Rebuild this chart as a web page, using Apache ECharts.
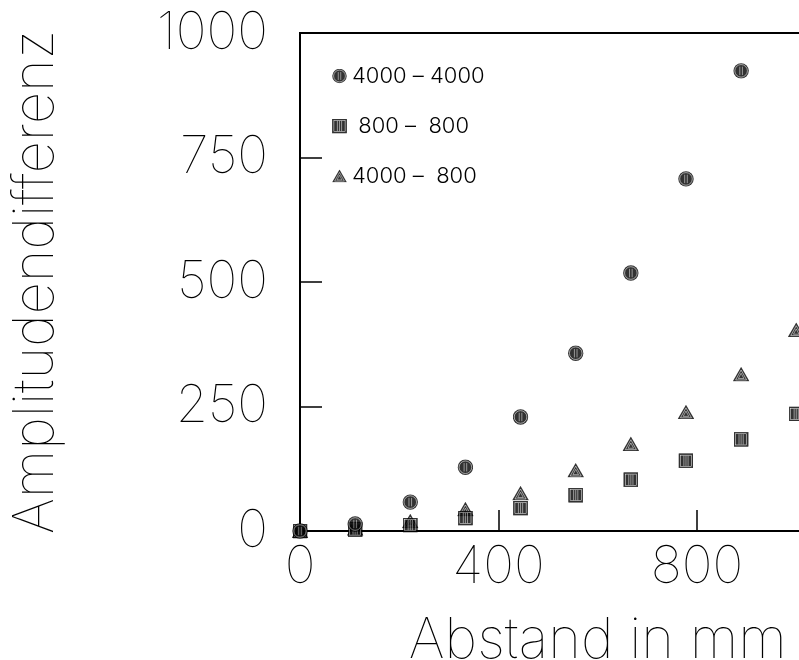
<!DOCTYPE html>
<html>
<head>
<meta charset="utf-8">
<script src="https://cdn.jsdelivr.net/npm/echarts@6/dist/echarts.min.js"></script>
<style>
  html, body { margin: 0; padding: 0; background: #fff; }
  #chart { width: 799px; height: 660px; }
</style>
</head>
<body>
<div id="chart"></div>
<script>
// Distance from the source (mm)
const abstand = [0, 111.1, 222.2, 333.3, 444.4, 555.6, 666.7, 777.8, 888.9, 1000];

// Amplitude difference for each transducer pairing
const paar4000_4000 = [0, 14, 58, 128, 229, 357, 518, 707, 924];
const paar800_800   = [0, 3, 12, 26, 46, 72, 103, 141, 184, 235];
const paar4000_800  = [0, 5, 20, 44, 76, 122, 175, 239, 315, 404];

const serienNamen = ['4000 – 4000', ' 800 –  800', '4000 –  800'];
const yTicks = [0, 250, 500, 750, 1000];
const xTicks = [0, 400, 800, 1200];

// Hatched marker glyphs
function svgSymbol(svg) {
  return 'image://data:image/svg+xml;charset=utf-8,' + encodeURIComponent(svg);
}
const kreis = svgSymbol(
  '<svg xmlns="http://www.w3.org/2000/svg" width="32" height="32" viewBox="0 0 16 16">' +
  '<circle cx="8" cy="8" r="7.7" fill="#000"/>' +
  '<circle cx="8" cy="8" r="6.3" fill="none" stroke="#fff" stroke-width="0.55"/>' +
  '<path d="M6.7 3.8V12.2M9.3 3.8V12.2" stroke="#fff" stroke-width="0.5"/>' +
  '</svg>');
const quadrat = svgSymbol(
  '<svg xmlns="http://www.w3.org/2000/svg" width="30" height="30" viewBox="0 0 15 15">' +
  '<rect x="0.4" y="0.4" width="14.2" height="14.2" fill="#000" stroke="#000" stroke-width="0.8"/>' +
  '<rect x="1.9" y="1.9" width="11.2" height="11.2" fill="none" stroke="#fff" stroke-width="0.5"/>' +
  '<path d="M5.4 2.3V12.7M7.5 2.3V12.7M9.6 2.3V12.7" stroke="#fff" stroke-width="0.5"/>' +
  '</svg>');
const dreieck = svgSymbol(
  '<svg xmlns="http://www.w3.org/2000/svg" width="34" height="30" viewBox="0 0 17 15">' +
  '<polygon points="8.5,0.2 16.8,14.6 0.2,14.6" fill="#000"/>' +
  '<polygon points="8.5,3.4 14,13.3 3,13.3" fill="none" stroke="#fff" stroke-width="0.55"/>' +
  '<polygon points="8.5,6.6 11.3,11.9 5.7,11.9" fill="none" stroke="#fff" stroke-width="0.5"/>' +
  '</svg>');

function paare(ys) {
  return ys.map((y, i) => [abstand[i], y]);
}

const schrift = 'Inter';
const dunn = 100;

const chart = echarts.init(document.getElementById('chart'), null, { renderer: 'canvas' });
chart.setOption({
  animation: false,
  backgroundColor: '#fff',
  grid: {
    left: 300, top: 33, width: 595.5, height: 498,
    containLabel: false, outerBoundsMode: 'none',
    show: true, borderColor: '#000', borderWidth: 2, backgroundColor: 'transparent'
  },
  legend: {
    orient: 'vertical',
    left: 327, top: 60,
    itemWidth: 15, itemHeight: 15, itemGap: 28,
    textStyle: { fontFamily: schrift, fontWeight: 300, fontSize: 22, color: '#000' },
    data: [
      { name: serienNamen[0], icon: kreis },
      { name: serienNamen[1], icon: quadrat },
      { name: serienNamen[2], icon: dreieck }
    ]
  },
  xAxis: {
    type: 'value', min: xTicks[0], max: xTicks[xTicks.length - 1], interval: 400,
    name: 'Abstand in mm', nameLocation: 'middle', nameGap: 82,
    nameTextStyle: { fontFamily: schrift, fontWeight: dunn, fontSize: 56, color: '#000' },
    axisLine: { show: true, lineStyle: { color: '#000', width: 2 } },
    axisTick: { show: true, inside: true, length: 21, lineStyle: { color: '#000', width: 1.5 } },
    axisLabel: { margin: 10, fontFamily: schrift, fontWeight: dunn, fontSize: 52, color: '#000', formatter: v => String(v) },
    splitLine: { show: false }
  },
  yAxis: {
    type: 'value', min: yTicks[0], max: yTicks[yTicks.length - 1], interval: 250,
    name: 'Amplitudendifferenz', nameLocation: 'middle', nameGap: 236,
    nameTextStyle: { fontFamily: schrift, fontWeight: dunn, fontSize: 56, color: '#000' },
    axisLine: { show: true, lineStyle: { color: '#000', width: 2 } },
    axisTick: { show: true, inside: true, length: 22, lineStyle: { color: '#000', width: 1.5 } },
    axisLabel: { margin: 32, fontFamily: schrift, fontWeight: dunn, fontSize: 52, color: '#000', formatter: v => String(v) },
    splitLine: { show: false }
  },
  series: [
    { name: serienNamen[1], type: 'scatter', symbol: quadrat, symbolSize: 15, data: paare(paar800_800), z: 3 },
    { name: serienNamen[2], type: 'scatter', symbol: dreieck, symbolSize: [17, 15], data: paare(paar4000_800), z: 2 },
    { name: serienNamen[0], type: 'scatter', symbol: kreis, symbolSize: 16, data: paare(paar4000_4000), z: 4 }
  ]
});
</script>
</body>
</html>
